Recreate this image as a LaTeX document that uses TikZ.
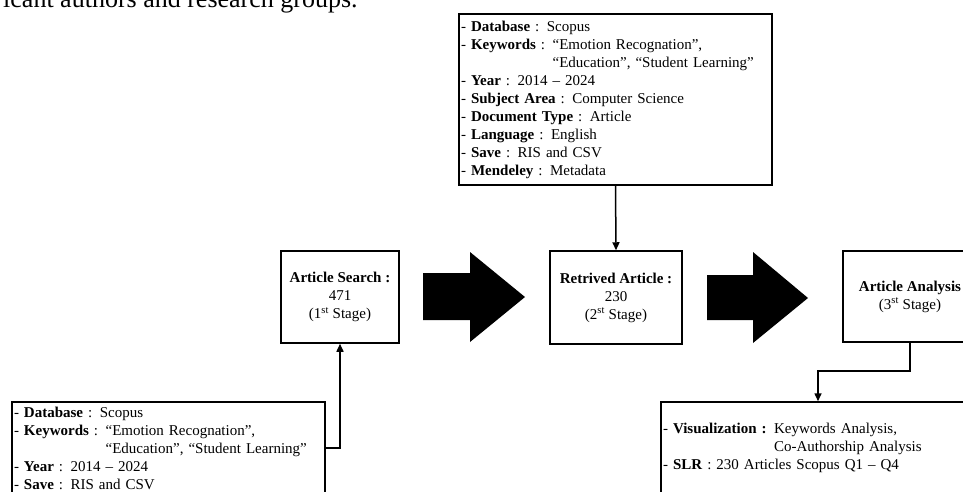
\documentclass[tikz,border=0pt]{standalone}
\usepackage{fontspec}
\setmainfont{Liberation Serif}
\usetikzlibrary{arrows.meta}
\begin{document}
\begin{tikzpicture}[x=1pt,y=-1pt,
 box/.style={draw=black, line width=1.5pt, rectangle, inner xsep=2pt, inner ysep=0pt, font=\fontsize{15}{18}\selectfont},
 listbox/.style={box, align=left},
 stagebox/.style={box, align=center},
 conn/.style={line width=1.5pt, -{Triangle[length=8pt,width=7pt]}},
 bigarrow/.style={fill=black}]
\useasboundingbox (0,0) rectangle (963,491);
\node[anchor=base west, font=\fontsize{26}{30}\selectfont, inner sep=0pt] (cap) at (3,7) {icant authors and research groups.};
\node[listbox, minimum width=313pt, minimum height=171pt, text width=309pt] (db) at (615.5,99.5)
 {- \textbf{Database} : Scopus\\
  - \textbf{Keywords} : “Emotion Recognation”,\\
  \phantom{- \textbf{Keywords} : }“Education”, “Student Learning”\\
  - \textbf{Year} : 2014 – 2024\\
  - \textbf{Subject Area} : Computer Science\\
  - \textbf{Document Type} : Article\\
  - \textbf{Language} : English\\
  - \textbf{Save} : RIS and CSV\\
  - \textbf{Mendeley} : Metadata};
\node[stagebox, minimum width=118pt, minimum height=92pt] (search) at (340,297)
 {\textbf{Article Search :}\\471\\(1\textsuperscript{st} Stage)};
\node[stagebox, minimum width=132pt, minimum height=93pt] (ret) at (616,297.5)
 {\textbf{Retrived Article :}\\230\\(2\textsuperscript{st} Stage)};
\node[stagebox, minimum width=134pt, minimum height=91pt] (ana) at (910,296.5)
 {\textbf{Article Analysis}\\(3\textsuperscript{st} Stage)};
\node[listbox, minimum width=313pt, minimum height=92pt, text width=309pt] (bl) at (168.5,448)
 {- \textbf{Database} : Scopus\\
  - \textbf{Keywords} : “Emotion Recognation”,\\
  \phantom{- \textbf{Keywords} : }“Education”, “Student Learning”\\
  - \textbf{Year} : 2014 – 2024\\
  - \textbf{Save} : RIS and CSV};
\node[listbox, minimum width=314pt, minimum height=92pt, text width=310pt] (br) at (818,448)
 {- \textbf{Visualization :} Keywords Analysis,\\
  \phantom{- \textbf{Visualization :} }Co-Authorship Analysis\\
  - \textbf{SLR} : 230 Articles Scopus Q1 – Q4};
\fill[bigarrow] (423,273) -- (470,273) -- (470,252) -- (525,297) -- (470,342) -- (470,320) -- (423,320) -- cycle;
\fill[bigarrow] (707,275) -- (753,275) -- (753,252) -- (808,298) -- (753,343) -- (753,320) -- (707,320) -- cycle;
\draw[conn] (db.south) -- (ret.north);
\draw[conn] (bl.east) -| (search.south);
\draw[conn] (ana.south) -- ++(0,28) -| (br.north);
\end{tikzpicture}
\end{document}
